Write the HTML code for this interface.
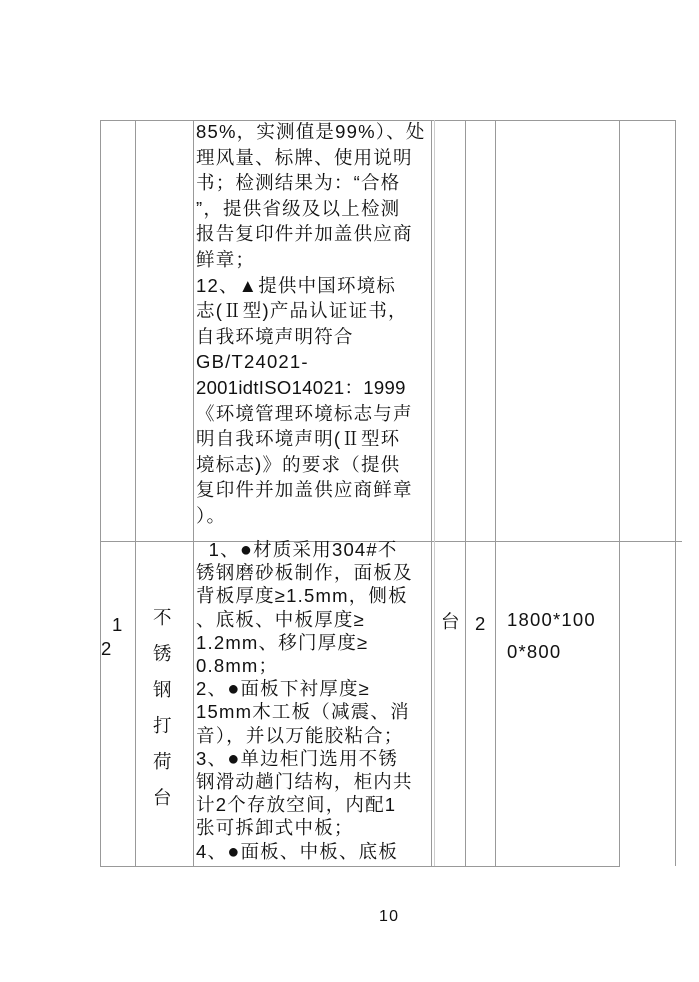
<!DOCTYPE html>
<html><head><meta charset="utf-8"><style>
body{margin:0;width:699px;height:982px;background:#fff;position:relative;overflow:hidden;font-family:"Liberation Sans","Noto Serif CJK SC",serif;color:#111}
.h{position:absolute;height:1px;background:#999}
.v{position:absolute;width:1px;background:#999}
.t{position:absolute;font-size:18.5px;line-height:24px;white-space:nowrap;letter-spacing:1.2px}
.b{font-size:20px}
</style></head><body>
<div class="h" style="left:100px;top:120px;width:575px"></div>
<div class="h" style="left:100px;top:541px;width:582px"></div>
<div class="h" style="left:100px;top:866px;width:520px"></div>
<div class="v" style="left:100px;top:120px;height:746px"></div>
<div class="v" style="left:135px;top:120px;height:746px"></div>
<div class="v" style="left:193px;top:120px;height:746px"></div>
<div class="v" style="left:431px;top:120px;height:746px"></div>
<div class="v" style="left:434px;top:120px;height:746px;background:#ccc"></div>
<div class="v" style="left:465px;top:120px;height:746px"></div>
<div class="v" style="left:495px;top:120px;height:746px"></div>
<div class="v" style="left:619px;top:120px;height:746px"></div>
<div class="v" style="left:675px;top:120px;height:746px"></div>

<div class="t" style="left:196px;top:120px">85%，实测值是99%）、处</div>
<div class="t" style="left:196px;top:145.6px">理风量、标牌、使用说明</div>
<div class="t" style="left:196px;top:171.2px">书；检测结果为：“合格</div>
<div class="t" style="left:196px;top:196.8px">”，提供省级及以上检测</div>
<div class="t" style="left:196px;top:222.4px">报告复印件并加盖供应商</div>
<div class="t" style="left:196px;top:248px">鲜章；</div>
<div class="t" style="left:196px;top:273.6px">12、▲提供中国环境标</div>
<div class="t" style="left:196px;top:299.2px">志(Ⅱ型)产品认证证书，</div>
<div class="t" style="left:196px;top:324.8px">自我环境声明符合</div>
<div class="t" style="left:196px;top:350.4px">GB/T24021-</div>
<div class="t" style="left:196px;top:376px;letter-spacing:0.3px">2001idtISO14021：1999</div>
<div class="t" style="left:196px;top:401.6px">《环境管理环境标志与声</div>
<div class="t" style="left:196px;top:427.2px">明自我环境声明(Ⅱ型环</div>
<div class="t" style="left:196px;top:452.8px">境标志)》的要求（提供</div>
<div class="t" style="left:196px;top:478.4px">复印件并加盖供应商鲜章</div>
<div class="t" style="left:196px;top:504px">）。</div>

<div class="t" style="left:196px;top:538px">&nbsp;&nbsp;1、<span class="b">●</span>材质采用304#不</div>
<div class="t" style="left:196px;top:561.2px">锈钢磨砂板制作，面板及</div>
<div class="t" style="left:196px;top:584.4px">背板厚度≥1.5mm，侧板</div>
<div class="t" style="left:196px;top:607.6px">、底板、中板厚度≥</div>
<div class="t" style="left:196px;top:630.8px">1.2mm、移门厚度≥</div>
<div class="t" style="left:196px;top:654px">0.8mm；</div>
<div class="t" style="left:196px;top:677.2px">2、<span class="b">●</span>面板下衬厚度≥</div>
<div class="t" style="left:196px;top:700.4px">15mm木工板（减震、消</div>
<div class="t" style="left:196px;top:723.6px">音），并以万能胶粘合；</div>
<div class="t" style="left:196px;top:746.8px">3、<span class="b">●</span>单边柜门选用不锈</div>
<div class="t" style="left:196px;top:770px">钢滑动趟门结构，柜内共</div>
<div class="t" style="left:196px;top:793.2px">计2个存放空间，内配1</div>
<div class="t" style="left:196px;top:816.4px">张可拆卸式中板；</div>
<div class="t" style="left:196px;top:839.6px">4、<span class="b">●</span>面板、中板、底板</div>

<div class="t" style="left:112px;top:613px">1</div>
<div class="t" style="left:101px;top:637px">2</div>
<div class="t" style="left:153px;top:606px">不</div>
<div class="t" style="left:153px;top:642px">锈</div>
<div class="t" style="left:153px;top:678px">钢</div>
<div class="t" style="left:153px;top:714px">打</div>
<div class="t" style="left:153px;top:750px">荷</div>
<div class="t" style="left:153px;top:786px">台</div>
<div class="t" style="left:441px;top:610px">台</div>
<div class="t" style="left:475px;top:612px">2</div>
<div class="t" style="left:507px;top:608px">1800*100</div>
<div class="t" style="left:507px;top:640px">0*800</div>
<div class="t" style="left:379px;top:905px;font-size:16px">10</div>
</body></html>
